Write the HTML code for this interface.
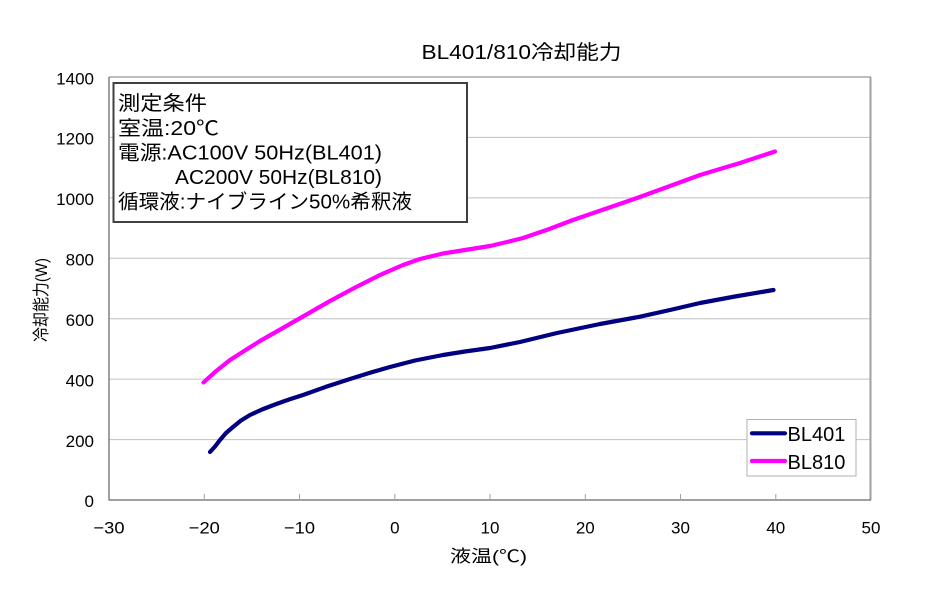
<!DOCTYPE html>
<html><head><meta charset="utf-8"><style>
html,body{margin:0;padding:0;background:#fff;}
svg{display:block;}
text{font-family:"Liberation Sans","Noto Sans CJK JP",sans-serif;fill:#000;}
</style></head><body>
<svg width="940" height="590" viewBox="0 0 940 590" xmlns="http://www.w3.org/2000/svg">
<rect width="940" height="590" fill="#fff"/>
<!-- title -->
<text x="421.5" y="59" font-size="20" textLength="200" lengthAdjust="spacingAndGlyphs">BL401/810冷却能力</text>
<!-- gridlines -->
<g stroke="#c0c0c0" stroke-width="1">
<line x1="109" y1="137.4" x2="871" y2="137.4"/>
<line x1="109" y1="197.9" x2="871" y2="197.9"/>
<line x1="109" y1="258.3" x2="871" y2="258.3"/>
<line x1="109" y1="318.7" x2="871" y2="318.7"/>
<line x1="109" y1="379.1" x2="871" y2="379.1"/>
<line x1="109" y1="439.6" x2="871" y2="439.6"/>
</g>
<!-- plot border -->
<line x1="109" y1="77" x2="871" y2="77" stroke="#a8a8a8" stroke-width="1.5"/>
<line x1="870.5" y1="77" x2="870.5" y2="500" stroke="#a0a0a0" stroke-width="2"/>
<line x1="109" y1="77" x2="109" y2="500.5" stroke="#808080" stroke-width="1.5"/>
<line x1="109" y1="500" x2="871" y2="500" stroke="#808080" stroke-width="1.5"/>
<!-- x ticks -->
<g stroke="#a0a0a0" stroke-width="1">
<line x1="204.3" y1="494" x2="204.3" y2="500"/>
<line x1="299.5" y1="494" x2="299.5" y2="500"/>
<line x1="394.8" y1="494" x2="394.8" y2="500"/>
<line x1="490" y1="494" x2="490" y2="500"/>
<line x1="585.3" y1="494" x2="585.3" y2="500"/>
<line x1="680.5" y1="494" x2="680.5" y2="500"/>
<line x1="775.8" y1="494" x2="775.8" y2="500"/>
</g>
<!-- y labels -->
<g font-size="17" text-anchor="end">
<text x="94" y="84.5">1400</text>
<text x="94" y="144.5">1200</text>
<text x="94" y="205">1000</text>
<text x="94" y="265.5">800</text>
<text x="94" y="326">600</text>
<text x="94" y="386.5">400</text>
<text x="94" y="447">200</text>
<text x="94" y="507">0</text>
</g>
<!-- x labels -->
<g font-size="17" text-anchor="middle">
<text x="109" y="533.5" textLength="31" lengthAdjust="spacingAndGlyphs">−30</text>
<text x="204.3" y="533.5" textLength="31" lengthAdjust="spacingAndGlyphs">−20</text>
<text x="299.5" y="533.5" textLength="31" lengthAdjust="spacingAndGlyphs">−10</text>
<text x="394.8" y="533.5">0</text>
<text x="490" y="533.5">10</text>
<text x="585.3" y="533.5">20</text>
<text x="680.5" y="533.5">30</text>
<text x="775.8" y="533.5">40</text>
<text x="871" y="533.5">50</text>
</g>
<!-- axis titles -->
<text x="450" y="562" font-size="17" textLength="77" lengthAdjust="spacingAndGlyphs">液温(℃)</text>
<text transform="translate(47,342) rotate(-90)" x="0" y="0" font-size="17" textLength="84" lengthAdjust="spacingAndGlyphs">冷却能力(W)</text>
<!-- series -->
<polyline fill="none" stroke="#ff00ff" stroke-width="4.2" stroke-linecap="round" stroke-linejoin="round"
 points="203.5,382.5 215,372 230,360 260,341 303,316.5 330,301 356.7,286.7 380,275 403,265 420,259 443,253.5 465,250 490,246 505,242.5 523,238 548,229.5 573,220 605,209 637,198 670,186 700,175 740,163 775,151.5"/>
<polyline fill="none" stroke="#000080" stroke-width="4.2" stroke-linecap="round" stroke-linejoin="round"
 points="210,452 215,446.5 220,440 226,433 233,427 241,420.5 250,415 262,409.5 275,404.5 289,399.5 303,395 326,386.8 350,379 370,372.8 390,367 415,360.5 443,355 465,351.5 490,348 520,342 557,333 600,324 640,316.7 670,310 700,303 735,296.5 773.5,290"/>
<!-- info box -->
<rect x="113.5" y="83" width="353.5" height="139" fill="#fff" stroke="#404040" stroke-width="2"/>
<g font-size="20">
<text x="118" y="110" textLength="89" lengthAdjust="spacingAndGlyphs">測定条件</text>
<text x="118" y="135" textLength="101" lengthAdjust="spacingAndGlyphs">室温:20℃</text>
<text x="118" y="159.5" textLength="264" lengthAdjust="spacingAndGlyphs">電源:AC100V 50Hz(BL401)</text>
<text x="175" y="184" textLength="207" lengthAdjust="spacingAndGlyphs">AC200V 50Hz(BL810)</text>
<text x="118" y="208.5" textLength="294" lengthAdjust="spacingAndGlyphs">循環液:ナイブライン50%希釈液</text>
</g>
<!-- legend -->
<rect x="747" y="419.5" width="109" height="56.5" fill="#fff" stroke="#b0b0b0" stroke-width="1"/>
<line x1="752" y1="433.3" x2="785" y2="433.3" stroke="#000080" stroke-width="4.2" stroke-linecap="round"/>
<line x1="752" y1="461" x2="785" y2="461" stroke="#ff00ff" stroke-width="4.2" stroke-linecap="round"/>
<text x="787.5" y="441" font-size="20">BL401</text>
<text x="787.5" y="469" font-size="20">BL810</text>
</svg>
</body></html>
